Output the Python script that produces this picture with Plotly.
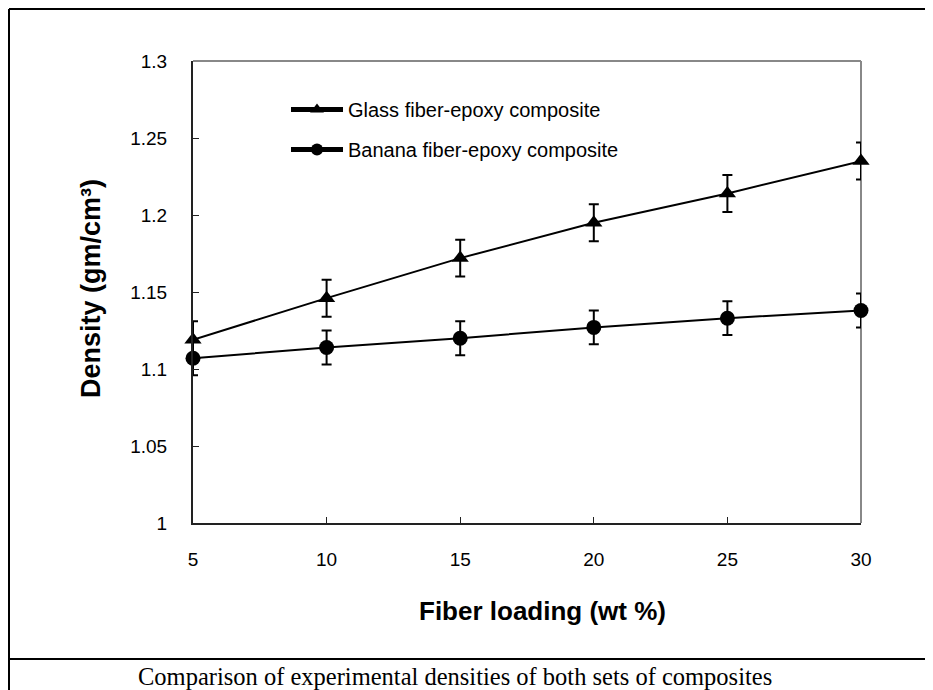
import plotly.graph_objects as go

# Data
fiber_loading = [5, 10, 15, 20, 25, 30]
glass_density = [1.119, 1.146, 1.172, 1.195, 1.214, 1.235]
glass_err = [0.012, 0.012, 0.012, 0.012, 0.012, 0.012]
banana_density = [1.107, 1.114, 1.120, 1.127, 1.133, 1.138]
banana_err = [0.011, 0.011, 0.011, 0.011, 0.011, 0.011]
y_ticks = [1, 1.05, 1.1, 1.15, 1.2, 1.25, 1.3]
y_tick_labels = ["1", "1.05", "1.1", "1.15", "1.2", "1.25", "1.3"]
x_ticks = [5, 10, 15, 20, 25, 30]

OFF = 8  # page body margin
W, H = 933 - OFF, 690 - OFF
L, R, T, B = 193 - OFF, 861 - OFF, 61 - OFF, 523 - OFF


def px(x):
    # screen pixel -> paper coordinate
    return (x - OFF - L) / (R - L)


def py(y):
    return (B - (y - OFF)) / (B - T)


SANS = "Liberation Sans, Arial, sans-serif"

fig = go.Figure()
fig.add_trace(go.Scatter(
    x=fiber_loading, y=glass_density, name="Glass fiber-epoxy composite",
    mode="lines+markers", legendgroup="g", cliponaxis=False,
    line=dict(color="black", width=2),
    marker=dict(symbol="triangle-up", size=15, color="black"),
    error_y=dict(type="data", array=glass_err, color="black", thickness=2, width=5),
))
fig.add_trace(go.Scatter(
    x=fiber_loading, y=banana_density, name="Banana fiber-epoxy composite",
    mode="lines+markers", legendgroup="b", cliponaxis=False,
    line=dict(color="black", width=2),
    marker=dict(symbol="circle", size=15, color="black"),
    error_y=dict(type="data", array=banana_err, color="black", thickness=2, width=5),
))

shapes = [
    dict(type="line", xref="paper", yref="paper", x0=0, x1=1, y0=1, y1=1,
         line=dict(color="#888888", width=2), layer="below"),
    dict(type="line", xref="paper", yref="paper", x0=1, x1=1, y0=0, y1=1,
         line=dict(color="#888888", width=2), layer="below"),
    dict(type="line", xref="paper", yref="paper", x0=px(9), x1=px(931), y0=py(9), y1=py(9),
         line=dict(color="black", width=2)),
    dict(type="line", xref="paper", yref="paper", x0=px(9), x1=px(9), y0=py(9), y1=py(692),
         line=dict(color="black", width=2)),
    dict(type="line", xref="paper", yref="paper", x0=px(931), x1=px(931), y0=py(9), y1=py(692),
         line=dict(color="black", width=2)),
    dict(type="line", xref="paper", yref="paper", x0=px(9), x1=px(931), y0=py(659), y1=py(659),
         line=dict(color="black", width=2)),
]

annotations = [
    dict(text="<b>Density (gm/cm³)</b>", xref="paper", yref="paper", x=px(91), y=py(289),
         showarrow=False, textangle=-90, font=dict(family=SANS, size=27, color="black"),
         xanchor="center", yanchor="middle"),
    dict(text="<b>Fiber loading (wt %)</b>", xref="paper", yref="paper", x=px(542), y=py(611),
         showarrow=False, font=dict(family=SANS, size=26, color="black"),
         xanchor="center", yanchor="middle"),
    dict(text="Comparison of experimental densities of both sets of composites",
         xref="paper", yref="paper", x=px(455), y=py(676), showarrow=False,
         font=dict(family="Liberation Serif, Times New Roman, serif", size=24.5, color="black"),
         xanchor="center", yanchor="middle"),
]

fig.update_layout(
    width=W, height=H,
    margin=dict(l=L, r=W - R, t=T, b=H - B, autoexpand=False),
    paper_bgcolor="white", plot_bgcolor="white",
    font=dict(family=SANS, size=19, color="black"),
    shapes=shapes, annotations=annotations,
    showlegend=True,
    legend=dict(x=px(286), y=py(90), xanchor="left", yanchor="top",
                bgcolor="rgba(0,0,0,0)", font=dict(family=SANS, size=20, color="black"),
                tracegroupgap=11, itemsizing="constant", itemwidth=52),
    xaxis=dict(range=[5, 30], tickvals=x_ticks, showgrid=False, zeroline=False,
               showline=True, linecolor="#222222", linewidth=2,
               ticks="inside", ticklen=6, tickwidth=1, tickcolor="#222222",
               ticklabelstandoff=18, tickfont=dict(size=19)),
    yaxis=dict(range=[1, 1.3], tickvals=y_ticks, ticktext=y_tick_labels, showgrid=False,
               zeroline=False, showline=True, linecolor="#222222", linewidth=2,
               ticks="inside", ticklen=6, tickwidth=1, tickcolor="#222222",
               ticklabelstandoff=20, tickfont=dict(size=19)),
)

fig.write_html("out.html")
